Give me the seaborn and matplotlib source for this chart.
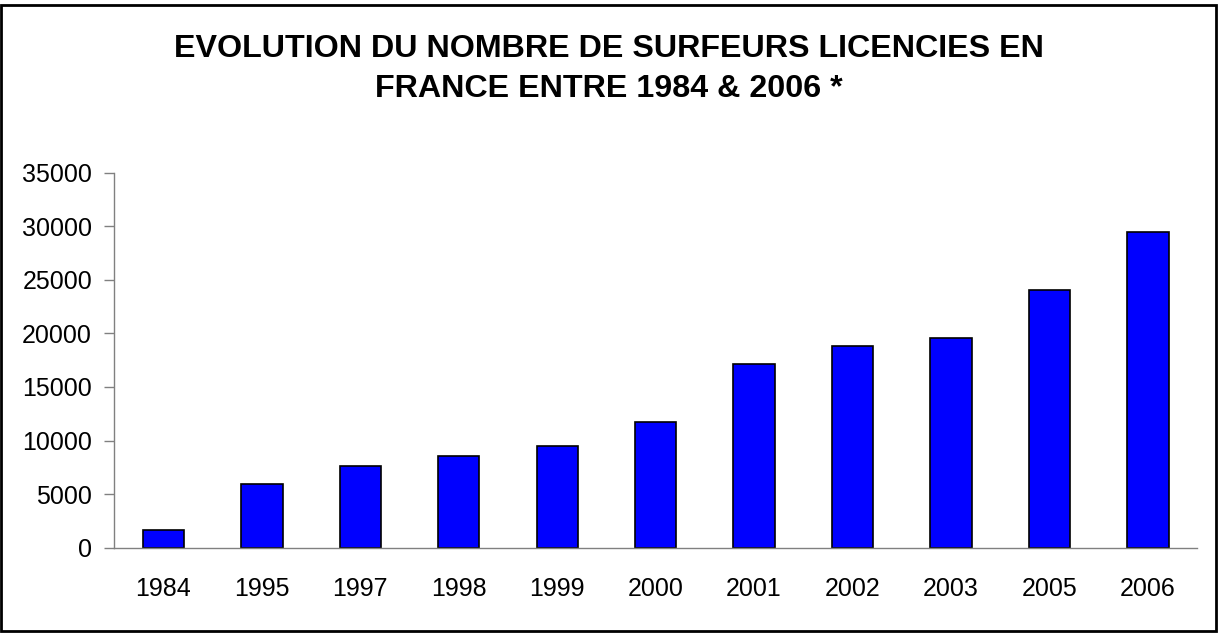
import numpy as np
import pandas as pd
import seaborn as sns
from matplotlib import pyplot as plt
from matplotlib.patches import Rectangle

years = ["1984", "1995", "1997", "1998", "1999", "2000", "2001", "2002", "2003", "2005", "2006"]
licencies = [1650, 5950, 7620, 8560, 9480, 11760, 17150, 18830, 19600, 24060, 29470]
y_ticks = [0, 5000, 10000, 15000, 20000, 25000, 30000, 35000]
title = "EVOLUTION DU NOMBRE DE SURFEURS LICENCIES EN\nFRANCE ENTRE 1984 & 2006 *"

sns.set_style("white")
plt.rcParams["font.family"] = ["Liberation Sans", "DejaVu Sans"]
plt.rcParams["text.color"] = "black"
plt.rcParams["xtick.labelcolor"] = "black"
plt.rcParams["ytick.labelcolor"] = "black"

df = pd.DataFrame({"annee": years, "licencies": licencies})

fig = plt.figure(figsize=(12.18, 6.33), dpi=100)
ax = fig.add_axes([0.0938, 0.1348, 0.9828 - 0.0938, 0.7272 - 0.1348])

sns.barplot(data=df, x="annee", y="licencies", color="#0000FF", saturation=1,
            edgecolor="black", linewidth=1.2, width=0.42, ax=ax)

ax.set_ylim(0, 35000)
ax.set_xlim(-0.5, len(years) - 0.5)
ax.set_yticks(y_ticks)
ax.set_yticklabels([str(v) for v in y_ticks])
ax.set_xticks(np.arange(-0.5, len(years), 1), minor=True)
ax.tick_params(axis="x", which="major", length=0, pad=21, labelsize=18)
ax.tick_params(axis="x", which="minor", length=8, width=1, color="#808080", direction="out")
ax.tick_params(axis="y", length=7, width=1, color="#808080", direction="out", pad=9, labelsize=18, left=True)
ax.set_xlabel("")
ax.set_ylabel("")

sns.despine(ax=ax)
for side in ["left", "bottom"]:
    ax.spines[side].set_color("#808080")
    ax.spines[side].set_linewidth(1)

fig.text(0.5, 0.946, title, ha="center", va="top", fontsize=23.2,
         fontweight="bold", linespacing=1.42, color="black")

fig.patches.append(Rectangle((1 / 1218, 2 / 633), 1215 / 1218, 626 / 633,
                             transform=fig.transFigure, fill=False,
                             edgecolor="black", linewidth=2))

fig.savefig("out.png", dpi=100)
